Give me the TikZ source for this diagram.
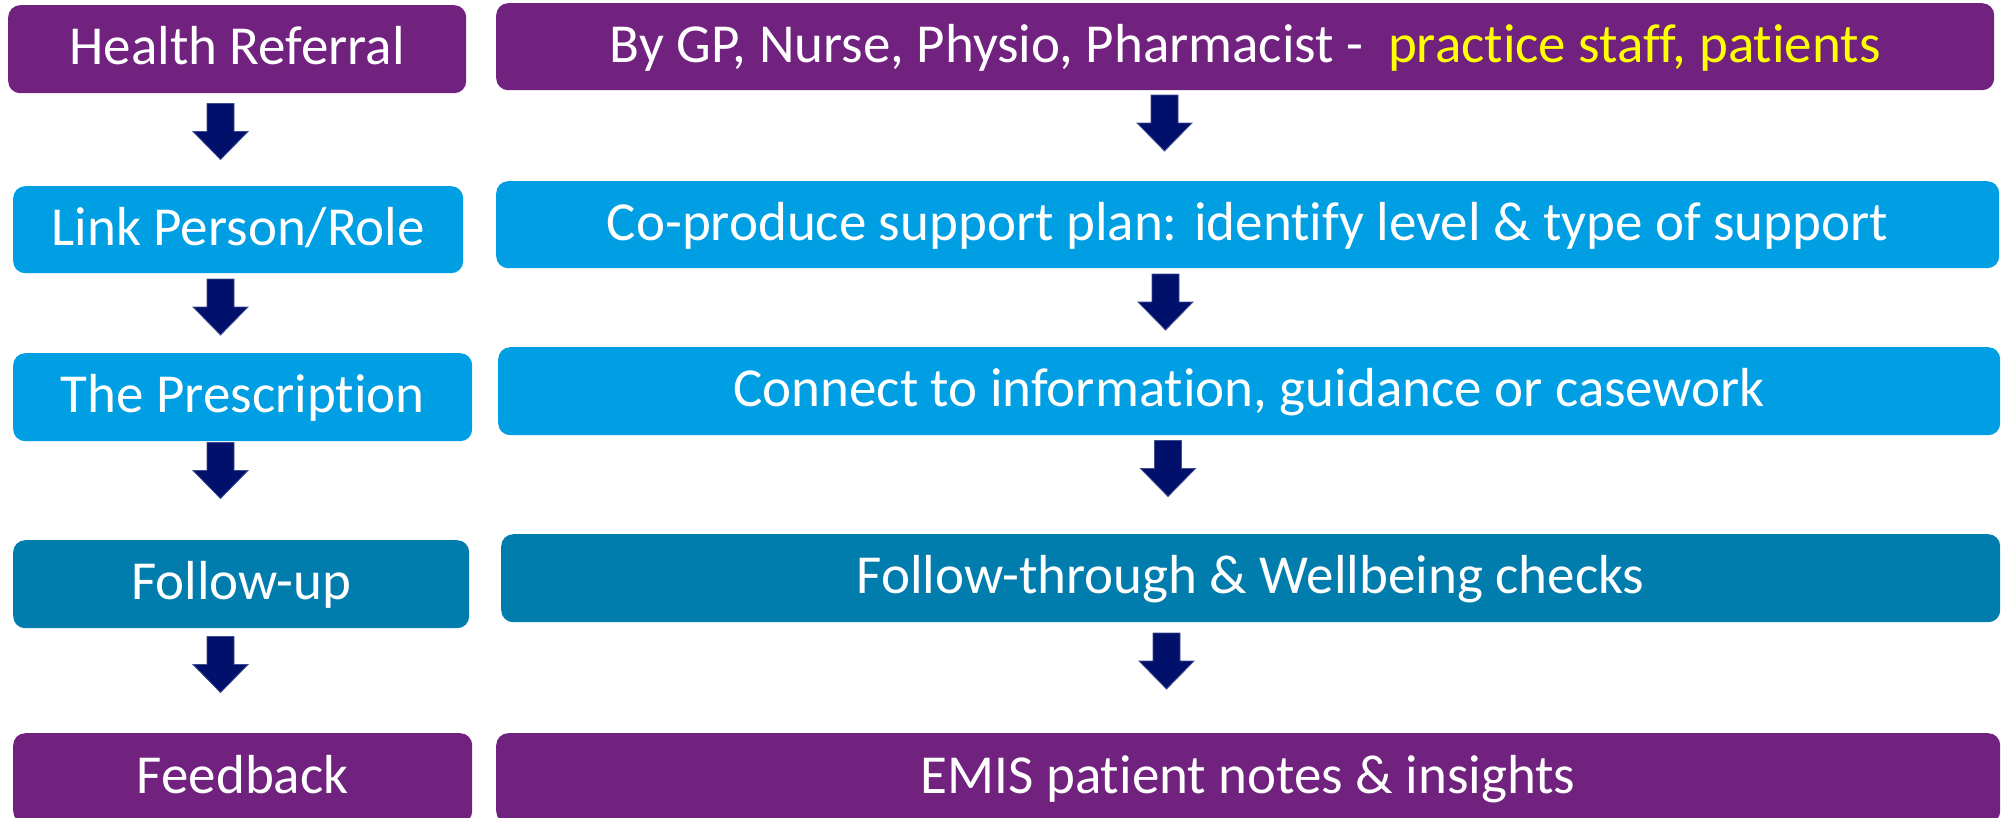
\documentclass[tikz,border=0pt]{standalone}
\usepackage{fontspec}
\setmainfont[Ligatures={NoCommon,NoRare,NoContextual},RawFeature={-clig}]{Carlito}
\definecolor{cpurple}{HTML}{70227E}
\definecolor{cblue}{HTML}{009FE3}
\definecolor{cteal}{HTML}{007DAD}
\definecolor{cnavy}{HTML}{00106B}
\definecolor{cyellow}{HTML}{FFFF00}
\newcommand{\tbreak}{t\kern0pt }
\begin{document}
\begin{tikzpicture}[x=1pt,y=-1pt,
  box/.style={rounded corners=12pt, inner sep=0pt, anchor=north west, text=white,
    font=\fontsize{55}{60}\selectfont, text height=33pt, text depth=2pt},
  pbox/.style={box, fill=cpurple},
  bbox/.style={box, fill=cblue},
  tbox/.style={box, fill=cteal},
  arrowfill/.style={fill=cnavy, draw=cnavy!75!white, line width=0.8pt, line join=miter},
  dnarrow/.pic={\path[arrowfill] (-13.5,-28) -- (13.5,-28) -- (13.5,0) -- (27.5,0)
      -- (0,28) -- (-27.5,0) -- (-13.5,0) -- cycle;}]
\useasboundingbox (0,0) rectangle (2002,817);
% left column
\node[pbox, minimum width=458pt, minimum height=88pt] (hr) at (8,5) {Health Referral};
\node[bbox, minimum width=450pt, minimum height=87pt] (lp) at (13,186) {Link Person/Role};
\node[bbox, minimum width=459pt, minimum height=88pt] (tp) at (13,353) {The Prescrip\tbreak ion};
\node[tbox, minimum width=456pt, minimum height=88pt] (fu) at (13,540) {Follow-up};
\node[pbox, minimum width=459pt, minimum height=90pt] (fb) at (13,733) {Feedback};
% right column
\node[pbox, minimum width=1498pt, minimum height=87pt] (by) at (496,3)
  {By GP, Nurse, Physio, Pharmacist -~~\textcolor{cyellow}{practice staff, pa\tbreak ients}};
\node[bbox, minimum width=1503pt, minimum height=87pt] (cp) at (496,181)
  {Co-produce support plan: iden\tbreak ify level \& type of support};
\node[bbox, minimum width=1502pt, minimum height=88pt] (ci) at (498,347)
  {Connect to informa\tbreak ion, guidance or casework};
\node[tbox, minimum width=1499pt, minimum height=88pt] (ft) at (501,534)
  {Follow-through \& Wellbeing checks};
\node[pbox, minimum width=1504pt, minimum height=90pt] (em) at (496,733)
  {EMIS patient notes \& insights};
% block arrows, left
\pic (a1) at (220.5,131.5) {dnarrow};
\pic (a2) at (220.5,307) {dnarrow};
\pic (a3) at (220.5,470.5) {dnarrow};
\pic (a4) at (220.5,664.5) {dnarrow};
% block arrows, right
\pic (b1) at (1164.5,123) {dnarrow};
\pic (b2) at (1165.5,302) {dnarrow};
\pic (b3) at (1168,468.5) {dnarrow};
\pic (b4) at (1166.5,661) {dnarrow};
\end{tikzpicture}
\end{document}
